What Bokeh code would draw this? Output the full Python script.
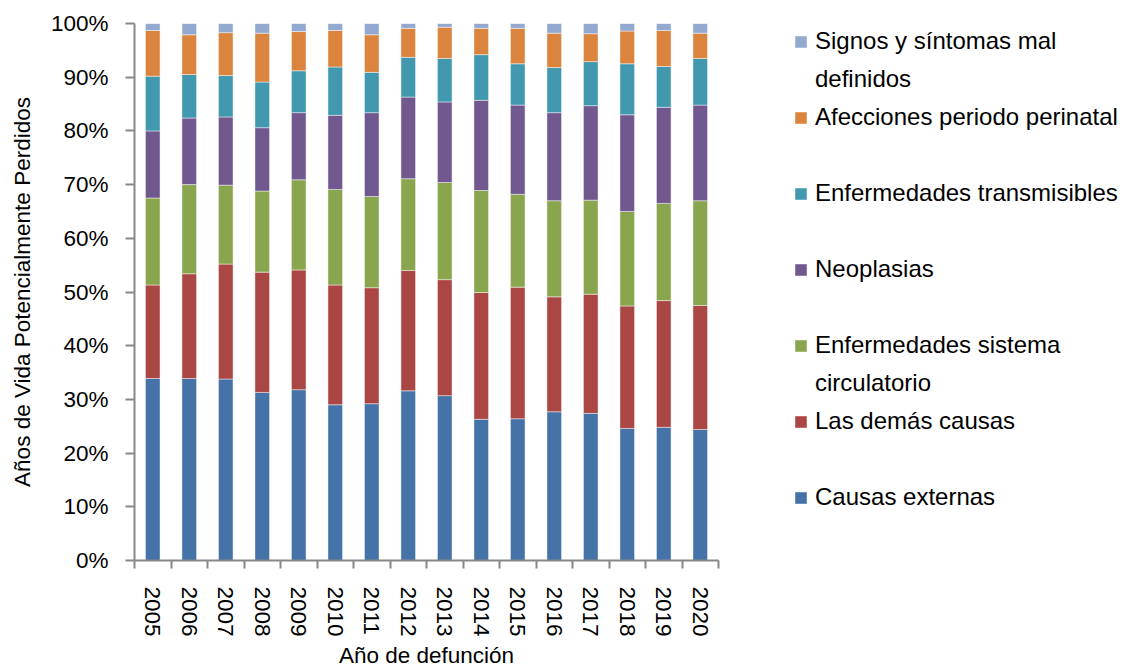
from bokeh.plotting import figure
from bokeh.models import (ColumnDataSource, FixedTicker, PrintfTickFormatter, Legend,
                          LegendItem, Range1d)
from bokeh.embed import file_html
from bokeh.resources import INLINE

years = ["2005", "2006", "2007", "2008", "2009", "2010", "2011", "2012",
         "2013", "2014", "2015", "2016", "2017", "2018", "2019", "2020"]

causas_externas = [33.9, 33.9, 33.8, 31.3, 31.8, 29.0, 29.2, 31.6, 30.7, 26.3, 26.4, 27.7, 27.4, 24.6, 24.8, 24.4]
las_demas_causas = [17.4, 19.5, 21.4, 22.4, 22.3, 22.3, 21.6, 22.4, 21.6, 23.6, 24.5, 21.4, 22.2, 22.8, 23.6, 23.1]
circulatorio = [16.2, 16.6, 14.7, 15.1, 16.8, 17.8, 17.0, 17.1, 18.1, 19.0, 17.3, 17.9, 17.5, 17.6, 18.1, 19.5]
neoplasias = [12.5, 12.4, 12.7, 11.8, 12.5, 13.8, 15.6, 15.2, 15.0, 16.8, 16.6, 16.4, 17.6, 18.0, 17.9, 17.8]
transmisibles = [10.2, 8.1, 7.7, 8.5, 7.8, 9.0, 7.5, 7.4, 8.1, 8.5, 7.7, 8.4, 8.2, 9.5, 7.6, 8.7]
perinatal = [8.5, 7.4, 8.0, 9.1, 7.3, 6.8, 7.0, 5.4, 5.8, 4.9, 6.6, 6.4, 5.2, 6.1, 6.7, 4.7]
signos = [1.3, 2.1, 1.7, 1.8, 1.5, 1.3, 2.1, 0.9, 0.7, 0.9, 0.9, 1.8, 1.9, 1.4, 1.3, 1.8]

series_keys = ["externas", "demas", "circ", "neo", "trans", "peri", "signos"]
# legend text: (first line, second line or None), bottom-to-top in stack order
series_labels = [("Causas externas", None), ("Las demás causas", None),
                 ("Enfermedades sistema", "circulatorio"), ("Neoplasias", None),
                 ("Enfermedades transmisibles", None),
                 ("Afecciones periodo perinatal", None),
                 ("Signos y síntomas mal", "definidos")]
colors = ["#4572A7", "#AA4643", "#89A54E", "#71588F", "#4198AF", "#DB843D", "#93A9CF"]

src = ColumnDataSource(dict(
    x=list(range(len(years))),
    externas=causas_externas, demas=las_demas_causas, circ=circulatorio,
    neo=neoplasias, trans=transmisibles, peri=perinatal, signos=signos,
))

FONT = "Liberation Sans"

p = figure(frame_width=584, frame_height=537, output_backend="svg", toolbar_location=None,
           x_range=Range1d(-0.5, len(years) - 0.5), y_range=Range1d(0, 100),
           min_border_left=134, min_border_right=10, min_border_top=23,
           min_border_bottom=100)
p.outline_line_color = None
p.xgrid.grid_line_color = None
p.ygrid.grid_line_color = None

renderers = p.vbar_stack(series_keys, x="x", width=0.4, source=src, color=colors,
                         line_color="white", line_alpha=0.45, line_width=1)

# x axis
p.xaxis.ticker = FixedTicker(ticks=list(range(len(years))),
                             minor_ticks=[i - 0.5 for i in range(len(years) + 1)])
p.xaxis.major_label_overrides = {i: y for i, y in enumerate(years)}
p.xaxis.major_label_orientation = "vertical"
p.xaxis.major_tick_out = 0
p.xaxis.major_tick_in = 0
p.xaxis.minor_tick_out = 8
p.xaxis.minor_tick_in = 0
p.xaxis.major_label_standoff = 18
p.xaxis.axis_label = "Año de defunción"
p.xaxis.axis_label_standoff = 3

# y axis
p.yaxis.ticker = FixedTicker(ticks=list(range(0, 101, 10)))
p.yaxis.formatter = PrintfTickFormatter(format="%d%%")
p.yaxis.major_tick_out = 9
p.yaxis.major_tick_in = 0
p.yaxis.minor_tick_line_color = None
p.yaxis.major_label_standoff = 17
p.yaxis.axis_label = "Años de Vida Potencialmente Perdidos"
p.yaxis.axis_label_standoff = 13

for ax in (p.xaxis, p.yaxis):
    ax.axis_line_color = "#888888"
    ax.axis_line_width = 2
    ax.major_tick_line_color = "#888888"
    ax.major_tick_line_width = 2
    ax.minor_tick_line_width = 2
    ax.major_label_text_font = FONT
    ax.major_label_text_font_size = "22.5px"
    ax.major_label_text_color = "#000000"
    ax.axis_label_text_font = FONT
    ax.axis_label_text_font_size = "22.5px"
    ax.axis_label_text_font_style = "normal"
    ax.axis_label_text_color = "#000000"
p.xaxis.minor_tick_line_color = "#888888"

# Legend rows (equal pitch): entry, continuation line or blank row
items = []
order = list(reversed(range(len(series_keys))))
for n, i in enumerate(order):
    first, second = series_labels[i]
    items.append(LegendItem(label=first, renderers=[renderers[i]]))
    if n < len(order) - 1:
        items.append(LegendItem(label=second if second else " ", renderers=[]))

legend = Legend(items=items, location=(75, 48), orientation="vertical",
                glyph_width=15, glyph_height=15, label_standoff=7,
                label_height=30, spacing=8, padding=0, margin=0,
                border_line_color=None, background_fill_alpha=0,
                label_text_font=FONT, label_text_font_size="24px",
                label_text_color="#000000")
p.add_layout(legend, "right")

open("out.html", "w").write(file_html(p, INLINE))
